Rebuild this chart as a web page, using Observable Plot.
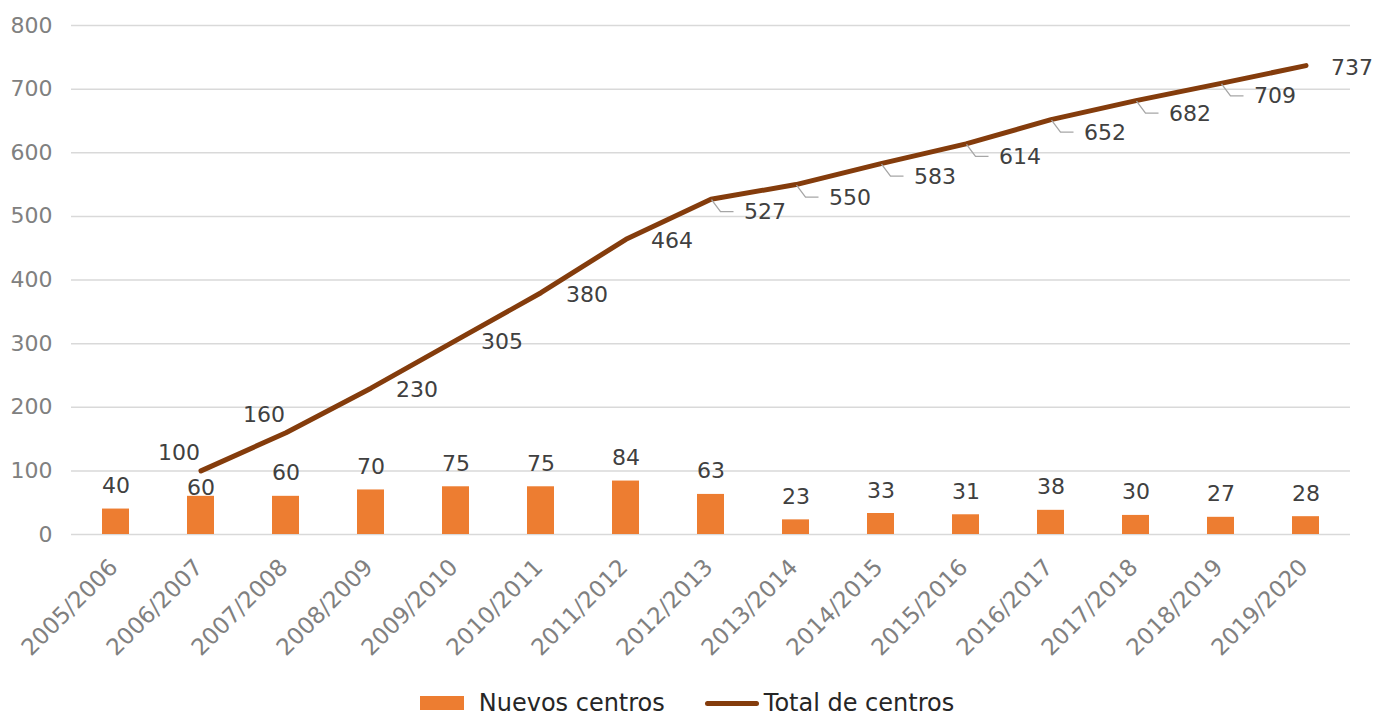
<!DOCTYPE html>
<html>
<head>
<meta charset="utf-8">
<script src="https://cdn.jsdelivr.net/npm/d3@7"></script>
<script src="https://cdn.jsdelivr.net/npm/@observablehq/plot@0.6"></script>
<style>
  html, body { margin: 0; padding: 0; background: #fff; }
  body { width: 1374px; height: 715px; position: relative; overflow: hidden; font-family: "DejaVu Sans", Verdana, sans-serif; }
  #chart { position: absolute; left: 0; top: 0; }
  .legend { position: absolute; left: 0; top: 689px; width: 1374px; height: 28px; display: flex; justify-content: center; align-items: center; font-size: 24px; color: #262626; }
  .legend .item { display: flex; align-items: center; }
  .legend .item + .item { margin-left: 40px; }
  .legend .sw-bar { width: 44px; height: 14px; background: #ED7D31; margin-right: 15px; }
  .legend .sw-line { width: 54px; height: 5px; border-radius: 3px; background: #843C0C; margin-right: 5px; }
</style>
</head>
<body>
<div id="chart"></div>
<div class="legend">
  <div class="item"><span class="sw-bar"></span><span>Nuevos centros</span></div>
  <div class="item"><span class="sw-line"></span><span>Total de centros</span></div>
</div>
<script>
// Academic years
const cursos = ["2005/2006", "2006/2007", "2007/2008", "2008/2009", "2009/2010", "2010/2011", "2011/2012",
  "2012/2013", "2013/2014", "2014/2015", "2015/2016", "2016/2017", "2017/2018", "2018/2019", "2019/2020"];
// New centres opened each year
const nuevosCentros = [40, 60, 60, 70, 75, 75, 84, 63, 23, 33, 31, 38, 30, 27, 28];
// Cumulative number of centres (no total reported for the first year)
const totalCentros = [null, 100, 160, 230, 305, 380, 464, 527, 550, 583, 614, 652, 682, 709, 737];
// Y axis ticks
const yTicks = [0, 100, 200, 300, 400, 500, 600, 700, 800];

const barColor = "#ED7D31";
const lineColor = "#843C0C";
const labelColor = "#404040";
const axisColor = "#808080";
const fs = 22;

const bars = cursos.map((c, i) => ({curso: c, value: nuevosCentros[i], i}));
const totals = cursos.map((c, i) => ({curso: c, value: totalCentros[i], i})).filter(d => d.value != null);

// Total labels: the first two sit above-left of the line, the rest to the right,
// the middle stretch with short leader lines back to the point.
const firstIdx = totals[0].i;
const lastIdx = totals[totals.length - 1].i;
const labelsLeft = totals.filter(d => d.i <= firstIdx + 1);
const labelsRight = totals.filter(d => (d.i > firstIdx + 1 && d.i < 7) || d.i === lastIdx);
const labelsLeader = totals.filter(d => d.i >= 7 && d.i < lastIdx);

// Bar label that would collide with the start of the line sits lower
const barLabelsNormal = bars.filter(d => d.i !== firstIdx);
const barLabelsLow = bars.filter(d => d.i === firstIdx);

function leaderLines(index, scales) {
  const g = d3.create("svg:g")
    .attr("fill", "none")
    .attr("stroke", "#A6A6A6")
    .attr("stroke-width", 1.3);
  const x = scales.x, y = scales.y;
  const bw = x.bandwidth ? x.bandwidth() : 0;
  for (const d of labelsLeader) {
    const px = x(d.curso) + bw / 2;
    const py = y(d.value);
    g.append("path").attr("d", `M${px + 1},${py + 1}L${px + 10},${py + 13}H${px + 23}`);
  }
  return g.node();
}

const chart = Plot.plot({
  width: 1374,
  height: 686,
  marginLeft: 71,
  marginRight: 24,
  marginTop: 25,
  marginBottom: 152,
  style: {fontFamily: "'DejaVu Sans', Verdana, sans-serif", fontSize: fs + "px", background: "#fff", color: axisColor, overflow: "visible"},
  x: {type: "band", domain: cursos, padding: 0, label: null},
  y: {domain: [0, 800], label: null},
  marks: [
    Plot.ruleY(yTicks, {stroke: "#D9D9D9", strokeWidth: 1.5}),
    Plot.axisY({ticks: yTicks, tickSize: 0, tickPadding: 19, fontSize: fs, fill: axisColor, label: null}),
    Plot.axisX({tickSize: 0, tickRotate: -45, tickPadding: 29, fontSize: 23, fill: axisColor, label: null, dx: -2}),
    Plot.barY(bars, {x: "curso", y: "value", fill: barColor, insetLeft: 29, insetRight: 29}),
    Plot.text(barLabelsNormal, {x: "curso", y: "value", text: d => String(d.value), dy: -23, fill: labelColor, fontSize: fs}),
    Plot.text(barLabelsLow, {x: "curso", y: "value", text: d => String(d.value), dy: -8, fill: labelColor, fontSize: fs}),
    Plot.line(totals, {x: "curso", y: "value", stroke: lineColor, strokeWidth: 5, strokeLinecap: "round", strokeLinejoin: "round"}),
    leaderLines,
    Plot.text(labelsLeft, {x: "curso", y: "value", text: d => String(d.value), textAnchor: "end", dx: -1, dy: -18, fill: labelColor, fontSize: fs}),
    Plot.text(labelsRight, {x: "curso", y: "value", text: d => String(d.value), textAnchor: "start", dx: 25, dy: 2, fill: labelColor, fontSize: fs}),
    Plot.text(labelsLeader, {x: "curso", y: "value", text: d => String(d.value), textAnchor: "start", dx: 33, dy: 13, fill: labelColor, fontSize: fs})
  ]
});
document.getElementById("chart").appendChild(chart);
</script>
</body>
</html>
